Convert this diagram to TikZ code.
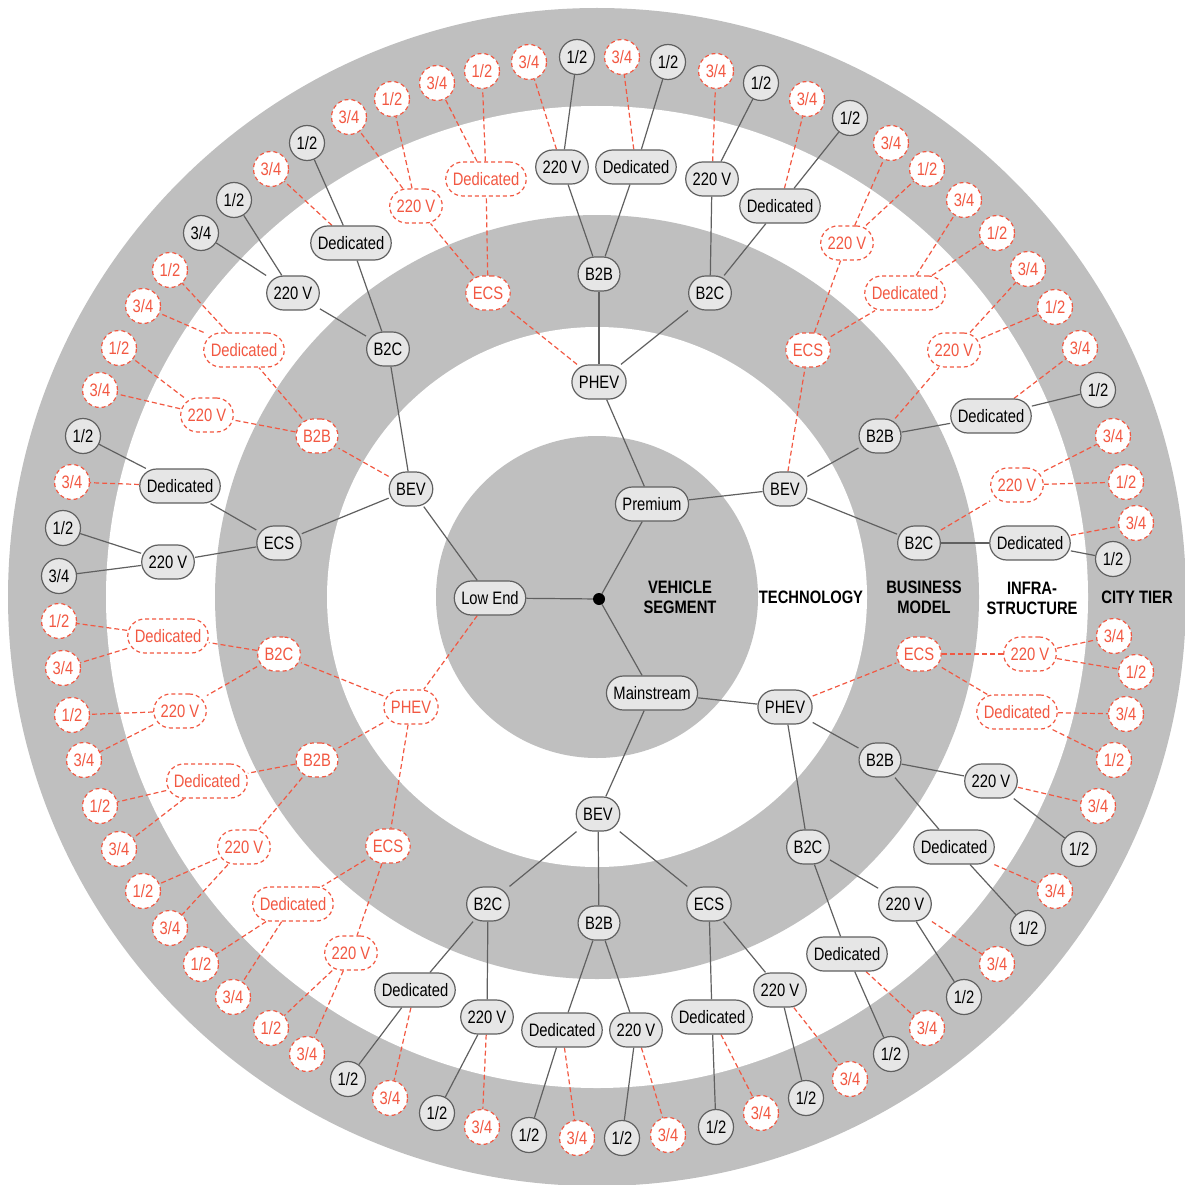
\documentclass[tikz,border=0pt]{standalone}
\usepackage{fontspec}
\setmainfont[FakeStretch=0.82]{Liberation Sans}
\definecolor{ringgray}{RGB}{191,191,191}
\definecolor{nodefill}{RGB}{230,230,230}
\definecolor{edgec}{RGB}{96,96,96}
\definecolor{redc}{RGB}{242,88,66}
\pgfdeclarelayer{rings}
\pgfdeclarelayer{edges}
\pgfsetlayers{rings,edges,main}
\newcommand{\leaf}[7]{\node[#1] (#3) at (#4,#5) {#6};\begin{pgfonlayer}{edges}\draw[#2] (#7) -- (#3);\end{pgfonlayer}}
\tikzset{
  bn/.style={draw=edgec, fill=nodefill, line width=1.2pt, rounded corners=17pt, minimum height=34pt, inner xsep=7pt, inner ysep=0pt, text=black},
  rn/.style={draw=redc, fill=white, line width=1.2pt, dash pattern=on 4pt off 3pt, rounded corners=17pt, minimum height=34pt, inner xsep=7pt, inner ysep=0pt, text=redc},
  bc/.style={circle, draw=edgec, fill=nodefill, line width=1.2pt, minimum size=35pt, inner sep=0pt, text=black},
  rc/.style={circle, draw=redc, fill=white, line width=1.2pt, dash pattern=on 4pt off 3pt, minimum size=35pt, inner sep=0pt, text=redc},
  be/.style={draw=edgec, line width=1.2pt},
  re/.style={draw=redc, line width=1.2pt, dash pattern=on 5pt off 3pt},
  lbl/.style={font=\fontsize{18}{20}\selectfont\bfseries, align=center, text=black}
}
\begin{document}
\begin{tikzpicture}[x=1pt, y=-1pt, font=\fontsize{18}{20}\selectfont]
\path[use as bounding box] (0,0) rectangle (1184,1185);
\clip (0,0) rectangle (1184,1185);
\begin{pgfonlayer}{rings}
\fill[ringgray] (597,597) circle (589pt);
\fill[white] (597,597) circle (491pt);
\fill[ringgray] (597,597) circle (382pt);
\fill[white] (597,597) circle (270pt);
\fill[ringgray] (597,597) circle (161pt);
\end{pgfonlayer}

% center and segments
\node[circle, fill=black, inner sep=0pt, minimum size=12pt] (c) at (599,599) {};
\leaf{bn}{be}{prem}{652}{504}{Premium}{c}
\leaf{bn}{be}{low}{490}{598}{Low End}{c}
\leaf{bn}{be}{main}{652}{693}{Mainstream}{c}

% technology
\leaf{bn}{be}{phevT}{599}{382}{PHEV}{prem}
\leaf{bn}{be}{bevR}{785}{489}{BEV}{prem}
\leaf{bn}{be}{bevL}{411}{489}{BEV}{low}
\leaf{rn}{re}{phevL}{411}{707}{PHEV}{low}
\leaf{bn}{be}{phevR}{785}{707}{PHEV}{main}
\leaf{bn}{be}{bevB}{598}{814}{BEV}{main}

% business model
\leaf{rn}{re}{ecsT}{488}{293}{ECS}{phevT}
\leaf{bn}{be}{b2bT}{599}{274}{B2B}{phevT}
\leaf{bn}{be}{b2cT}{710}{293}{B2C}{phevT}
\leaf{rn}{re}{ecsR}{808}{350}{ECS}{bevR}
\leaf{bn}{be}{b2bR}{880}{436}{B2B}{bevR}
\leaf{bn}{be}{b2cR}{919}{543}{B2C}{bevR}
\leaf{bn}{be}{b2cL}{388}{349}{B2C}{bevL}
\leaf{rn}{re}{b2bL}{317}{436}{B2B}{bevL}
\leaf{bn}{be}{ecsL}{279}{543}{ECS}{bevL}
\leaf{rn}{re}{b2cLL}{279}{654}{B2C}{phevL}
\leaf{rn}{re}{b2bLL}{317}{760}{B2B}{phevL}
\leaf{rn}{re}{ecsLL}{388}{846}{ECS}{phevL}
\leaf{bn}{be}{b2cB}{488}{904}{B2C}{bevB}
\leaf{bn}{be}{b2bB}{599}{923}{B2B}{bevB}
\leaf{bn}{be}{ecsB}{709}{904}{ECS}{bevB}
\leaf{bn}{be}{b2cR2}{808}{847}{B2C}{phevR}
\leaf{bn}{be}{b2bR2}{880}{760}{B2B}{phevR}
\leaf{rn}{re}{ecsR2}{919}{654}{ECS}{phevR}

% infrastructure
\leaf{rn}{re}{vecsT}{416}{206}{220 V}{ecsT}
\leaf{rn}{re}{decsT}{486}{179}{Dedicated}{ecsT}
\leaf{bn}{be}{vb2bT}{562}{167}{220 V}{b2bT}
\leaf{bn}{be}{db2bT}{636}{167}{Dedicated}{b2bT}
\leaf{bn}{be}{vb2cT}{712}{179}{220 V}{b2cT}
\leaf{bn}{be}{db2cT}{780}{206}{Dedicated}{b2cT}
\leaf{rn}{re}{vecsR}{847}{243}{220 V}{ecsR}
\leaf{rn}{re}{decsR}{905}{293}{Dedicated}{ecsR}
\leaf{rn}{re}{vb2bR}{954}{350}{220 V}{b2bR}
\leaf{bn}{be}{db2bR}{991}{416}{Dedicated}{b2bR}
\leaf{rn}{re}{vb2cR}{1017}{485}{220 V}{b2cR}
\leaf{bn}{be}{db2cR}{1030}{543}{Dedicated}{b2cR}
\leaf{rn}{re}{vecsR2}{1030}{654}{220 V}{ecsR2}
\leaf{rn}{re}{decsR2}{1017}{712}{Dedicated}{ecsR2}
\leaf{bn}{be}{vb2bR2}{991}{781}{220 V}{b2bR2}
\leaf{bn}{be}{db2bR2}{954}{847}{Dedicated}{b2bR2}
\leaf{bn}{be}{vb2cR2}{905}{904}{220 V}{b2cR2}
\leaf{bn}{be}{db2cR2}{847}{954}{Dedicated}{b2cR2}
\leaf{bn}{be}{vecsB}{780}{990}{220 V}{ecsB}
\leaf{bn}{be}{decsB}{712}{1017}{Dedicated}{ecsB}
\leaf{bn}{be}{vb2bB}{636}{1030}{220 V}{b2bB}
\leaf{bn}{be}{db2bB}{562}{1030}{Dedicated}{b2bB}
\leaf{bn}{be}{vb2cB}{487}{1017}{220 V}{b2cB}
\leaf{bn}{be}{db2cB}{415}{990}{Dedicated}{b2cB}
\leaf{rn}{re}{vecsLL}{351}{953}{220 V}{ecsLL}
\leaf{rn}{re}{decsLL}{293}{904}{Dedicated}{ecsLL}
\leaf{rn}{re}{vb2bLL}{244}{847}{220 V}{b2bLL}
\leaf{rn}{re}{db2bLL}{207}{781}{Dedicated}{b2bLL}
\leaf{rn}{re}{vb2cLL}{180}{711}{220 V}{b2cLL}
\leaf{rn}{re}{db2cLL}{168}{636}{Dedicated}{b2cLL}
\leaf{bn}{be}{vecsL}{168}{562}{220 V}{ecsL}
\leaf{bn}{be}{decsL}{180}{486}{Dedicated}{ecsL}
\leaf{rn}{re}{vb2bL}{207}{415}{220 V}{b2bL}
\leaf{rn}{re}{db2bL}{244}{350}{Dedicated}{b2bL}
\leaf{bn}{be}{vb2cL}{293}{293}{220 V}{b2cL}
\leaf{bn}{be}{db2cL}{351}{243}{Dedicated}{b2cL}

% city tier
\leaf{rc}{re}{t01}{349}{117}{3/4}{vecsT}
\leaf{rc}{re}{t02}{392}{99}{1/2}{vecsT}
\leaf{rc}{re}{t03}{437}{83}{3/4}{decsT}
\leaf{rc}{re}{t04}{482}{71}{1/2}{decsT}
\leaf{rc}{re}{t05}{529}{62}{3/4}{vb2bT}
\leaf{bc}{be}{t06}{577}{57}{1/2}{vb2bT}
\leaf{rc}{re}{t07}{622}{57}{3/4}{db2bT}
\leaf{bc}{be}{t08}{668}{62}{1/2}{db2bT}
\leaf{rc}{re}{t09}{716}{71}{3/4}{vb2cT}
\leaf{bc}{be}{t10}{761}{83}{1/2}{vb2cT}
\leaf{rc}{re}{t11}{807}{99}{3/4}{db2cT}
\leaf{bc}{be}{t12}{850}{118}{1/2}{db2cT}
\leaf{rc}{re}{t13}{891}{143}{3/4}{vecsR}
\leaf{rc}{re}{t14}{927}{169}{1/2}{vecsR}
\leaf{rc}{re}{t15}{964}{200}{3/4}{decsR}
\leaf{rc}{re}{t16}{997}{233}{1/2}{decsR}
\leaf{rc}{re}{t17}{1028}{269}{3/4}{vb2bR}
\leaf{rc}{re}{t18}{1055}{307}{1/2}{vb2bR}
\leaf{rc}{re}{t19}{1080}{348}{3/4}{db2bR}
\leaf{bc}{be}{t20}{1098}{390}{1/2}{db2bR}
\leaf{rc}{re}{t21}{1113}{436}{3/4}{vb2cR}
\leaf{rc}{re}{t22}{1126}{482}{1/2}{vb2cR}
\leaf{rc}{re}{t23}{1136}{523}{3/4}{db2cR}
\leaf{bc}{be}{t24}{1113}{559}{1/2}{db2cR}
\leaf{rc}{re}{t25}{1114}{636}{3/4}{vecsR2}
\leaf{rc}{re}{t26}{1136}{672}{1/2}{vecsR2}
\leaf{rc}{re}{t27}{1126}{714}{3/4}{decsR2}
\leaf{rc}{re}{t28}{1114}{760}{1/2}{decsR2}
\leaf{rc}{re}{t29}{1098}{806}{3/4}{vb2bR2}
\leaf{bc}{be}{t30}{1079}{849}{1/2}{vb2bR2}
\leaf{rc}{re}{t31}{1055}{891}{3/4}{db2bR2}
\leaf{bc}{be}{t32}{1028}{928}{1/2}{db2bR2}
\leaf{rc}{re}{t33}{997}{964}{3/4}{vb2cR2}
\leaf{bc}{be}{t34}{964}{997}{1/2}{vb2cR2}
\leaf{rc}{re}{t35}{927}{1028}{3/4}{db2cR2}
\leaf{bc}{be}{t36}{891}{1054}{1/2}{db2cR2}
\leaf{rc}{re}{t37}{850}{1079}{3/4}{vecsB}
\leaf{bc}{be}{t38}{806}{1098}{1/2}{vecsB}
\leaf{rc}{re}{t39}{761}{1113}{3/4}{decsB}
\leaf{bc}{be}{t40}{716}{1127}{1/2}{decsB}
\leaf{rc}{re}{t41}{668}{1135}{3/4}{vb2bB}
\leaf{bc}{be}{t42}{622}{1138}{1/2}{vb2bB}
\leaf{rc}{re}{t43}{577}{1138}{3/4}{db2bB}
\leaf{bc}{be}{t44}{529}{1135}{1/2}{db2bB}
\leaf{rc}{re}{t45}{482}{1127}{3/4}{vb2cB}
\leaf{bc}{be}{t46}{437}{1113}{1/2}{vb2cB}
\leaf{rc}{re}{t47}{390}{1098}{3/4}{db2cB}
\leaf{bc}{be}{t48}{348}{1079}{1/2}{db2cB}
\leaf{rc}{re}{t49}{307}{1054}{3/4}{vecsLL}
\leaf{rc}{re}{t50}{271}{1028}{1/2}{vecsLL}
\leaf{rc}{re}{t51}{233}{997}{3/4}{decsLL}
\leaf{rc}{re}{t52}{201}{964}{1/2}{decsLL}
\leaf{rc}{re}{t53}{170}{928}{3/4}{vb2bLL}
\leaf{rc}{re}{t54}{143}{891}{1/2}{vb2bLL}
\leaf{rc}{re}{t55}{119}{849}{3/4}{db2bLL}
\leaf{rc}{re}{t56}{100}{806}{1/2}{db2bLL}
\leaf{rc}{re}{t57}{84}{760}{3/4}{vb2cLL}
\leaf{rc}{re}{t58}{72}{715}{1/2}{vb2cLL}
\leaf{rc}{re}{t59}{63}{668}{3/4}{db2cLL}
\leaf{rc}{re}{t60}{59}{621}{1/2}{db2cLL}
\leaf{bc}{be}{t61}{59}{576}{3/4}{vecsL}
\leaf{bc}{be}{t62}{63}{528}{1/2}{vecsL}
\leaf{rc}{re}{t63}{72}{482}{3/4}{decsL}
\leaf{bc}{be}{t64}{83}{436}{1/2}{decsL}
\leaf{rc}{re}{t65}{100}{390}{3/4}{vb2bL}
\leaf{rc}{re}{t66}{119}{348}{1/2}{vb2bL}
\leaf{rc}{re}{t67}{143}{306}{3/4}{db2bL}
\leaf{rc}{re}{t68}{170}{270}{1/2}{db2bL}
\leaf{bc}{be}{t69}{201}{233}{3/4}{vb2cL}
\leaf{bc}{be}{t70}{234}{200}{1/2}{vb2cL}
\leaf{rc}{re}{t71}{271}{169}{3/4}{db2cL}
\leaf{bc}{be}{t72}{307}{143}{1/2}{db2cL}

% ring labels
\node[lbl] (l1) at (680,597) {VEHICLE\\SEGMENT};
\node[lbl] (l2) at (811,597) {TECHNOLOGY};
\node[lbl] (l3) at (924,597) {BUSINESS\\MODEL};
\node[lbl] (l4) at (1032,598) {INFRA-\\STRUCTURE};
\node[lbl] (l5) at (1137,597) {CITY TIER};
\end{tikzpicture}
\end{document}
